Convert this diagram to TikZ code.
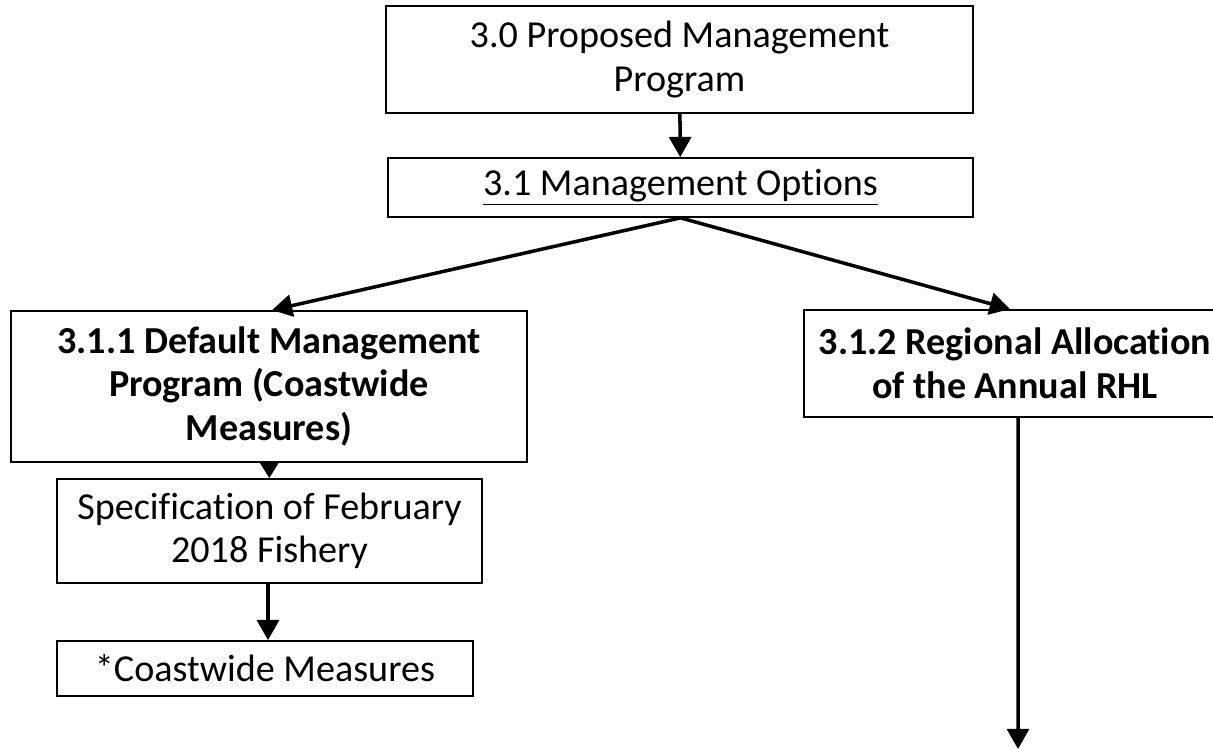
\documentclass[tikz,border=0pt]{standalone}
\usepackage{fontspec}
\setmainfont{Carlito}[Ligatures=NoCommon]
\usetikzlibrary{arrows.meta}

\begin{document}
\begin{tikzpicture}[x=0.02cm, y=-0.02cm,
		box/.style={draw, line width=1pt, inner sep=0pt, align=center, font=\fontsize{21.7}{24.8}\selectfont},
		flow/.style={-{Triangle[length=11.5pt, width=12.5pt]}, line width=2pt}]
	\useasboundingbox (0,0) rectangle (1213,750);
	\clip (0,0) rectangle (1213,750);

	\node[box, minimum width=11.74cm, minimum height=2.14cm] (prog) at (679.5,59.5) {3.0 Proposed Management\\Program};
	\node[box, minimum width=11.7cm, minimum height=1.18cm] (opts) at (680.5,187.5) {\underline{3.1 Management Options}};
	\node[box, minimum width=10.32cm, minimum height=3.02cm, font=\fontsize{21.7}{24.8}\selectfont\bfseries] (default) at (269,386.5) {3.1.1 Default Management\\Program (Coastwide\\Measures)};
	\node[box, minimum width=8.44cm, minimum height=2.14cm, font=\fontsize{21.7}{24.8}\selectfont\bfseries] (regional) at (1015,363.5) {3.1.2 Regional Allocation\\of the Annual RHL};
	\node[box, minimum width=8.5cm, minimum height=2.08cm] (spec) at (269.5,531) {Specification of February\\2018 Fishery};
	\node[box, minimum width=8.32cm, minimum height=1.1cm] (coast) at (265,668.5) {*Coastwide Measures};
	\coordinate (rend) at (1018,749);

	\draw[flow] (prog) -- (opts);
	\draw[flow] (opts.south) -- ([xshift=0.06cm]default.north);
	\draw[flow] (opts.south) -- ([xshift=-0.1cm]regional.north);
	\draw[flow, -{Triangle[length=9.6pt, width=11.3pt]}] (default) -- (spec);
	\draw[flow] ([xshift=-0.03cm]spec.south) -- ([xshift=-0.03cm]spec.south |- coast.north);
	\draw[flow] ([xshift=0.06cm]regional.south) -- (rend);
\end{tikzpicture}
\end{document}
